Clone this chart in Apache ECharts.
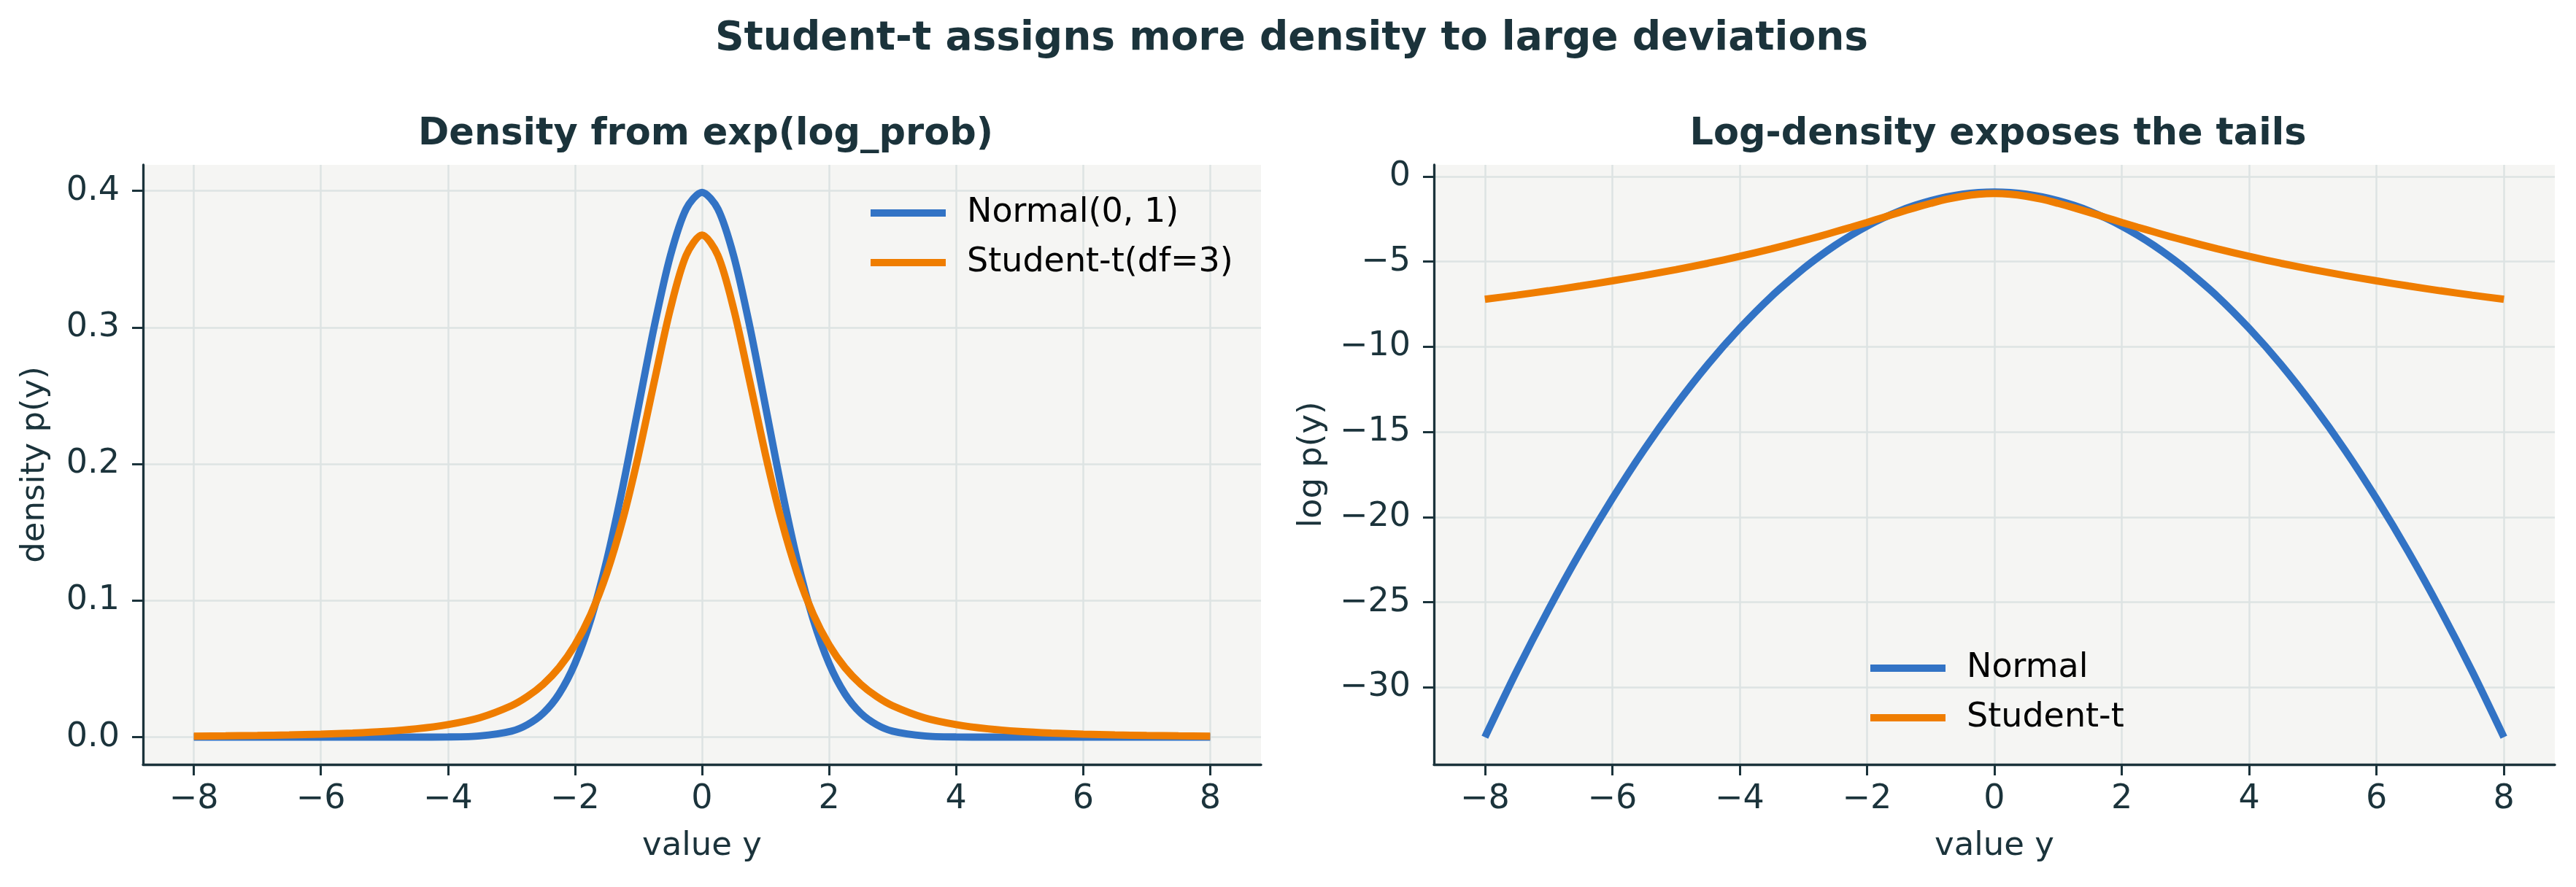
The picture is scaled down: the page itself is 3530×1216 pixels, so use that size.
<!DOCTYPE html>
<html>
<head>
<meta charset="utf-8">
<script src="https://cdn.jsdelivr.net/npm/echarts@6/dist/echarts.min.js"></script>
<style>
  html, body { margin: 0; padding: 0; background: #fff; }
  #chart { width: 3530px; height: 1216px; }
</style>
</head>
<body>
<div id="chart"></div>
<script>
// grid of y values (same for all four curves)
var yGrid = [-8, -7.5, -7, -6.5, -6, -5.5, -5, -4.5, -4, -3.5,
    -3, -2.75, -2.5, -2.25, -2, -1.75, -1.5, -1.25, -1, -0.75, -0.5, -0.25,
    0, 0.25, 0.5, 0.75, 1, 1.25, 1.5, 1.75, 2, 2.25, 2.5, 2.75, 3,
    3.5, 4, 4.5, 5, 5.5, 6, 6.5, 7, 7.5, 8];

// density
var normalDensity = [0, 0, 0, 0, 0, 0, 0, 0, 0.0001, 0.0009,
    0.0044, 0.0091, 0.0175, 0.0317, 0.0540, 0.0863, 0.1295, 0.1826, 0.2420, 0.3011, 0.3521, 0.3867,
    0.3989, 0.3867, 0.3521, 0.3011, 0.2420, 0.1826, 0.1295, 0.0863, 0.0540, 0.0317, 0.0175, 0.0091, 0.0044,
    0.0009, 0.0001, 0, 0, 0, 0, 0, 0, 0, 0];
var studentDensity = [0.0007, 0.0009, 0.0012, 0.0016, 0.0022, 0.0030, 0.0042, 0.0061, 0.0092, 0.0142,
    0.0230, 0.0297, 0.0387, 0.0509, 0.0675, 0.0900, 0.1200, 0.1589, 0.2067, 0.2607, 0.3132, 0.3527,
    0.3676, 0.3527, 0.3132, 0.2607, 0.2067, 0.1589, 0.1200, 0.0900, 0.0675, 0.0509, 0.0387, 0.0297, 0.0230,
    0.0142, 0.0092, 0.0061, 0.0042, 0.0030, 0.0022, 0.0016, 0.0012, 0.0009, 0.0007];

// log-density
var normalLog = [-32.92, -29.04, -25.42, -22.04, -18.92, -16.04, -13.42, -11.04, -8.92, -7.04,
    -5.42, -4.70, -4.04, -3.45, -2.92, -2.45, -2.04, -1.70, -1.42, -1.20, -1.04, -0.95,
    -0.92, -0.95, -1.04, -1.20, -1.42, -1.70, -2.04, -2.45, -2.92, -3.45, -4.04, -4.70, -5.42,
    -7.04, -8.92, -11.04, -13.42, -16.04, -18.92, -22.04, -25.42, -29.04, -32.92];
var studentLog = [-7.21, -6.97, -6.71, -6.43, -6.13, -5.81, -5.47, -5.10, -4.69, -4.25,
    -3.77, -3.52, -3.25, -2.98, -2.70, -2.41, -2.12, -1.84, -1.58, -1.34, -1.16, -1.04,
    -1.00, -1.04, -1.16, -1.34, -1.58, -1.84, -2.12, -2.41, -2.70, -2.98, -3.25, -3.52, -3.77,
    -4.25, -4.69, -5.10, -5.47, -5.81, -6.13, -6.43, -6.71, -6.97, -7.21];

// tick labels
var xTicks = [-8, -6, -4, -2, 0, 2, 4, 6, 8];
var densityTicks = [0, 0.1, 0.2, 0.3, 0.4];
var logTicks = [-30, -25, -20, -15, -10, -5, 0];

var ink = '#1b333b';
var blue = '#3273c5';
var orange = '#ef7d00';
var font = 'DejaVu Sans';

function pairs(ys) {
    return yGrid.map(function (x, i) { return [x, ys[i]]; });
}
function minus(v) {
    return String(v).replace('-', '\u2212');
}

var chart = echarts.init(document.getElementById('chart'), null, { renderer: 'canvas' });

function xAxisFor(idx) {
    return {
        type: 'value', gridIndex: idx, min: -8.8, max: 8.8,
        name: 'value y', nameLocation: 'middle', nameGap: 90,
        nameTextStyle: { fontFamily: font, fontSize: 45, color: ink },
        axisLine: { show: true, onZero: false, lineStyle: { color: ink, width: 3.3 } },
        axisTick: { show: true, length: 15, customValues: xTicks, lineStyle: { color: ink, width: 3 } },
        axisLabel: { customValues: xTicks, margin: 25, fontFamily: font, fontSize: 46, color: ink, formatter: minus },
        splitLine: { show: true, lineStyle: { color: '#dde3e3', width: 2.5 } }
    };
}
function yAxisFor(idx, min, max, ticks, name, gap, fmt) {
    return {
        type: 'value', gridIndex: idx, min: min, max: max,
        name: name, nameLocation: 'middle', nameGap: gap, nameRotate: 90,
        nameTextStyle: { fontFamily: font, fontSize: 45, color: ink },
        axisLine: { show: true, onZero: false, lineStyle: { color: ink, width: 3.3 } },
        axisTick: { show: true, length: 15, customValues: ticks, lineStyle: { color: ink, width: 3 } },
        axisLabel: { customValues: ticks, margin: 32, fontFamily: font, fontSize: 46, color: ink, formatter: fmt },
        splitLine: { show: true, lineStyle: { color: '#dde3e3', width: 2.5 } }
    };
}
function legendAt(left, top, names) {
    return {
        orient: 'vertical', left: left, top: top, icon: 'rect',
        itemWidth: 103, itemHeight: 10, itemGap: 18,
        textStyle: { fontFamily: font, fontSize: 46, color: '#000', lineHeight: 50, padding: [0, 0, 0, 24] },
        data: names
    };
}
function curve(name, ys, color, idx) {
    return {
        name: name, type: 'line', xAxisIndex: idx, yAxisIndex: idx,
        data: pairs(ys), showSymbol: false, symbol: 'none', smooth: 0.3,
        color: color, lineStyle: { color: color, width: 10 }, animation: false
    };
}

chart.setOption({
    animation: false,
    title: [{
        text: 'Student-t assigns more density to large deviations',
        left: 1765, top: 21, textAlign: 'center',
        textStyle: { fontFamily: font, fontSize: 55, fontWeight: 'bold', color: ink }
    }, {
        text: 'Density from exp(log_prob)',
        left: 962, top: 154, textAlign: 'center',
        textStyle: { fontFamily: font, fontSize: 51, fontWeight: 'bold', color: ink }
    }, {
        text: 'Log-density exposes the tails',
        left: 2733, top: 154, textAlign: 'center',
        textStyle: { fontFamily: font, fontSize: 51, fontWeight: 'bold', color: ink }
    }],
    grid: [
        { left: 196, width: 1532, top: 226, height: 822, show: true, backgroundColor: '#f5f5f3', borderWidth: 0 },
        { left: 1965, width: 1536, top: 226, height: 822, show: true, backgroundColor: '#f5f5f3', borderWidth: 0 }
    ],
    xAxis: [xAxisFor(0), xAxisFor(1)],
    yAxis: [
        yAxisFor(0, -0.02, 0.419, densityTicks, 'density p(y)', 125, function (v) { return v.toFixed(1); }),
        yAxisFor(1, -34.52, 0.68, logTicks, 'log p(y)', 144, minus)
    ],
    legend: [
        legendAt(1188, 262, ['Normal(0, 1)', 'Student-t(df=3)']),
        legendAt(2558, 886, ['Normal', 'Student-t'])
    ],
    series: [
        curve('Normal(0, 1)', normalDensity, blue, 0),
        curve('Student-t(df=3)', studentDensity, orange, 0),
        curve('Normal', normalLog, blue, 1),
        curve('Student-t', studentLog, orange, 1)
    ]
});
</script>
</body>
</html>
